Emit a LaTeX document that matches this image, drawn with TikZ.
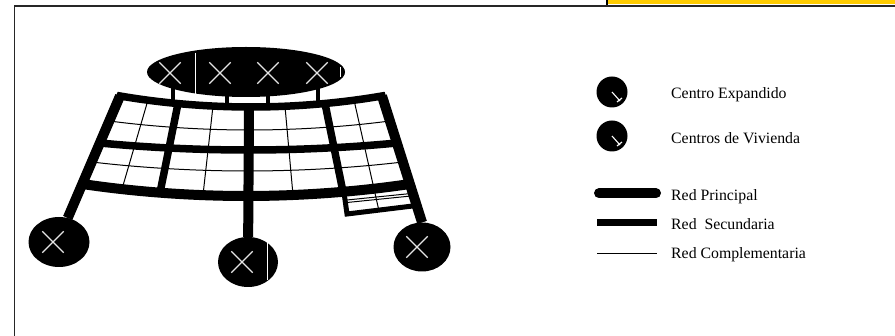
\documentclass[tikz,border=0pt]{standalone}
\usepackage{fontspec}
\setmainfont{Liberation Serif}
\usetikzlibrary{shapes.geometric,shapes.misc}

\definecolor{amarillo}{HTML}{FFCC00}

\begin{document}
\begin{tikzpicture}[x=1pt, y=-1pt,
  principal/.style={line width=10pt},
  secundaria/.style={line width=7.5pt},
  complementaria/.style={line width=1pt},
  enlace/.style={line width=3.5pt},
  centro/.style={ellipse, fill=black, inner sep=0pt, minimum width=61pt, minimum height=50pt},
  xmark/.style={cross out, draw=white!90!black, line width=1.4pt, inner sep=0pt, minimum size=20pt},
  marca/.style={white, line width=1.1pt},
  leyenda/.style={anchor=base west, inner sep=0pt, font=\fontsize{15.8}{18}\selectfont}]
  \useasboundingbox (0,0) rectangle (895,336);
  % marco
  \fill[amarillo] (607,0) rectangle (895,4.5);
  \draw[line width=1.5pt] (607,0) -- (607,5);
  \draw[line width=1.6pt, black!85] (14.5,336) -- (14.5,6) -- (895,6);

  % centros de vivienda
  \node[centro] (cl) at (59,242) {};
  \node[centro, minimum width=60pt] (cc) at (248,262) {};
  \node[centro, minimum width=57pt, minimum height=49pt] (cr) at (422,247) {};

  % red
  \coordinate (aL) at (120,96);
  \coordinate (aC) at (249,107);
  \coordinate (aR) at (382,96);
  \draw[secundaria, line join=miter] (cl.70) -- (aL) parabola bend (251,107) (aR) -- (cr.north);
  \draw[principal] (aL) -- (cl.70);
  \draw[principal] (aR) -- (cr.north);
  \draw[complementaria] (109.3,121) parabola bend (249.6,130) (389.9,121);
  \draw[secundaria] (99.9,143) parabola bend (248.4,150) (396.9,143);
  \draw[complementaria] (91.7,162) parabola bend (247.3,171) (402.9,162);
  \draw[principal] (82.3,184) parabola bend (246.1,196) (409.9,184);
  \draw[complementaria] (148,100) -- (122,189);
  \draw[secundaria] (178,103.6) -- (160,192.7);
  \draw[complementaria] (213,106) -- (203,195);
  \draw[principal] (aC) -- (cc);
  \draw[complementaria] (285,106.3) -- (293,195);
  \draw[secundaria] (325,103.5) -- (343,191.8);
  \draw[complementaria] (354,100) -- (379,211);
  \draw[line width=5pt, line join=miter] (343.5,189) -- (347,214) -- (416.8,205.5);
  \draw[complementaria] (347,200) -- (411,193.5);
  \draw[complementaria] (347,202.5) -- (411,196);

  % centro expandido
  \node[ellipse, fill=black, inner sep=0pt, minimum width=198pt, minimum height=50pt] (ce) at (246,72) {};
  \coordinate (t1) at (173,103.1);
  \coordinate (t2) at (227,106.6);
  \coordinate (t3) at (268,106.8);
  \coordinate (t4) at (318,104.1);
  \foreach \t in {t1,t2,t3,t4}
    \draw[enlace] (\t |- ce.center) -- (\t);
  \node[xmark] (x1) at (170,73) {};
  \node[xmark] (x2) at (220,73) {};
  \node[xmark] (x3) at (268,73) {};
  \node[xmark] (x4) at (317,73) {};
  \draw[marca, line width=1pt] (195,53) -- (195,94);
  \draw[marca, line width=1pt] (340,67) -- (340,77);

  \node[xmark] (xl) at (53,242) {};
  \node[xmark] (xc) at (242,262) {};
  \node[xmark] (xr) at (417,247) {};
  \draw[marca, line width=1pt] (267,240) -- (267,280);

  % leyenda
  \node[circle, fill=black, inner sep=0pt, minimum size=31pt] (le) at (612,92) {};
  \node[circle, fill=black, inner sep=0pt, minimum size=31pt] (lv) at (612,136) {};
  \draw[marca] (le.center) -- ++(8,9) (le.center) ++(5,10) -- ++(5,-4);
  \draw[marca] (lv.center) -- ++(8,9) (lv.center) ++(5,10) -- ++(5,-4);
  \node[leyenda] (te) at (671,99) {Centro Expandido};
  \node[leyenda] (tv) at (671,144) {Centros de Vivienda};
  \node[leyenda] (tp) at (671,201) {Red Principal};
  \node[leyenda] (ts) at (671,230) {Red\ \ Secundaria};
  \node[leyenda] (tc) at (671,259) {Red Complementaria};
  \draw[principal, line cap=round] (599,193.3) -- (656,193.3);
  \draw[secundaria] (597,222.3) -- (657,222.3);
  \draw[complementaria] (597,253.3) -- (657,253.3);
\end{tikzpicture}
\end{document}
